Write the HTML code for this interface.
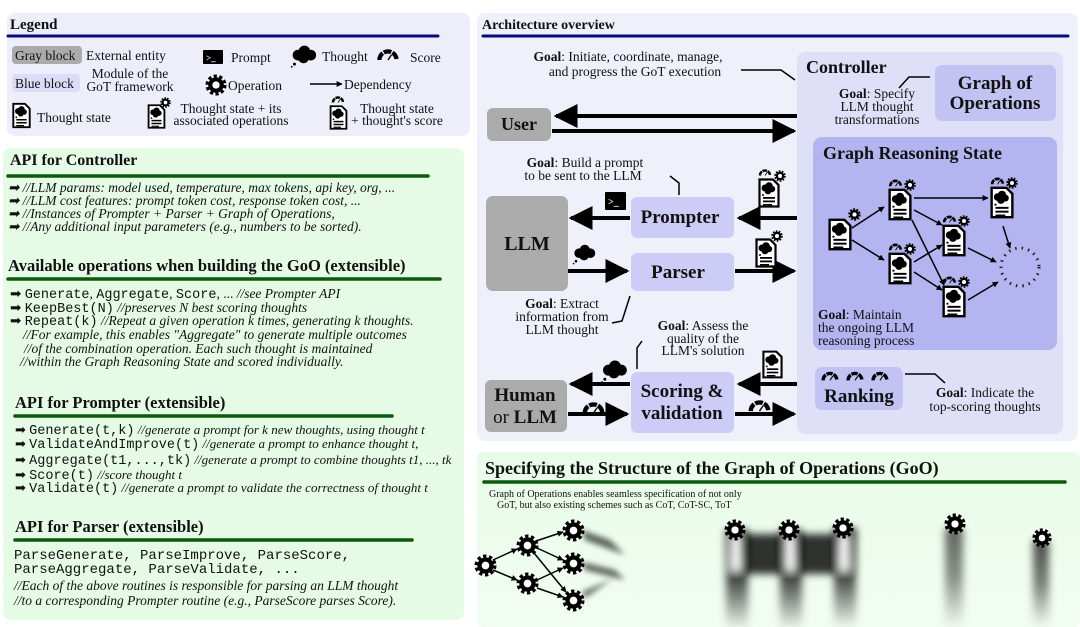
<!DOCTYPE html>
<html><head><meta charset="utf-8"><style>
html,body{margin:0;padding:0;background:#fff;}
svg{display:block;}
text{font-family:"Liberation Serif",serif;fill:#111;}
.b{font-weight:bold;}
.m{font-family:"Liberation Mono",monospace;}
.i{font-style:italic;}
</style></head><body>
<svg width="1080" height="627" viewBox="0 0 1080 627" xmlns="http://www.w3.org/2000/svg">
<defs>
<symbol id="gear" viewBox="-12 -12 24 24" overflow="visible">
<circle r="8.5" fill="#000"/>
<circle r="9.5" fill="none" stroke="#000" stroke-width="4" stroke-dasharray="3.4 2.6"/>
<circle r="4" fill="#fff"/>
</symbol>
<symbol id="cloud" viewBox="0 0 30 24" overflow="visible">
<circle cx="9" cy="11" r="6" fill="#000"/><circle cx="16" cy="7" r="6.5" fill="#000"/><circle cx="23" cy="11" r="6" fill="#000"/><circle cx="15" cy="14" r="6" fill="#000"/>
<circle cx="5" cy="21" r="1.6" fill="#000"/><circle cx="2" cy="24" r="1" fill="#000"/>
</symbol>
<symbol id="doc" viewBox="0 0 22 30" overflow="visible">
<path d="M1.5 1.5 H15 L20.5 7 V28.5 H1.5 Z" fill="#fff" stroke="#000" stroke-width="2.2"/>
<circle cx="7" cy="10" r="3.5"/><circle cx="11" cy="8" r="3.8"/><circle cx="14" cy="11" r="3.2"/><circle cx="10" cy="13" r="3.3"/>
<circle cx="5" cy="17" r="1"/>
<rect x="5" y="19" width="12" height="1.8"/><rect x="5" y="22.5" width="12" height="1.8"/><rect x="5" y="26" width="9" height="1.4"/>
</symbol>
<symbol id="gauge" viewBox="0 0 28 16" overflow="visible">
<path d="M4 15 A10 10 0 0 1 24 15" fill="none" stroke="#000" stroke-width="5" stroke-dasharray="9 1.5"/>
<line x1="14" y1="15" x2="18" y2="9" stroke="#000" stroke-width="1.6"/>
</symbol>
<marker id="ah" viewBox="0 0 10 10" refX="9" refY="5" markerWidth="4" markerHeight="4" orient="auto"><path d="M0 0 L10 5 L0 10 Z" fill="#000"/></marker>
<marker id="as" viewBox="0 0 10 10" refX="9" refY="5" markerWidth="6" markerHeight="6" orient="auto"><path d="M0 0 L10 5 L0 10 Z" fill="#000"/></marker>
<linearGradient id="gbg" x1="0" y1="0" x2="0" y2="1"><stop offset="0" stop-color="#e8fbe8"/><stop offset="1" stop-color="#f2fdf2"/></linearGradient>
<linearGradient id="streak" x1="0" y1="0" x2="0" y2="1"><stop offset="0" stop-color="#000"/><stop offset="0.5" stop-color="#000" stop-opacity="0.7"/><stop offset="1" stop-color="#000" stop-opacity="0"/></linearGradient>
<filter id="bl" x="-50%" y="-20%" width="200%" height="140%"><feGaussianBlur stdDeviation="4"/></filter>
<filter id="bl2" x="-50%" y="-50%" width="200%" height="200%"><feGaussianBlur stdDeviation="3"/></filter>
</defs>

<!-- LEGEND -->
<rect x="7" y="13" width="463" height="123" rx="8" fill="#eeeefa"/>
<text x="10" y="29" class="b" font-size="15">Legend</text>
<line x1="8" y1="36" x2="438" y2="36" stroke="#0a0a80" stroke-width="3" stroke-linecap="round"/>
<rect x="12" y="46" width="70" height="18" rx="4" fill="#ababab"/>
<text x="15" y="60" font-size="13.5">Gray block</text>
<text x="86" y="60" font-size="13.5">External entity</text>
<rect x="203" y="50" width="20" height="14" rx="1" fill="#000"/>
<text x="206" y="61" font-size="9" style="fill:#fff" class="b">&gt;_</text>
<text x="231" y="62" font-size="13.5">Prompt</text>
<use href="#cloud" x="290" y="45" width="27" height="22"/>
<text x="322" y="61" font-size="13.5">Thought</text>
<use href="#gauge" x="376" y="47" width="24" height="14"/>
<text x="410" y="62" font-size="13.5">Score</text>
<rect x="12" y="74" width="68" height="18" rx="4" fill="#dcdcf8"/>
<text x="15" y="88" font-size="13.5">Blue block</text>
<text x="130" y="78" font-size="13.5" text-anchor="middle">Module of the</text>
<text x="130" y="91" font-size="13.5" text-anchor="middle">GoT framework</text>
<use href="#gear" x="205" y="74" width="22" height="22"/>
<text x="228" y="90" font-size="13.5">Operation</text>
<line x1="310" y1="84" x2="342" y2="84" stroke="#000" stroke-width="1.5" marker-end="url(#ah)"/>
<text x="344" y="89" font-size="13.5">Dependency</text>
<use href="#doc" x="12" y="102" width="19" height="27"/>
<text x="37" y="122" font-size="13.5">Thought state</text>
<use href="#doc" x="147" y="104" width="19" height="25"/>
<use href="#gear" x="160" y="97" width="11" height="11"/>
<text x="231" y="113" font-size="13.5" text-anchor="middle">Thought state + its</text>
<text x="231" y="125" font-size="13.5" text-anchor="middle">associated operations</text>
<use href="#doc" x="329" y="105" width="19" height="25"/>
<use href="#gauge" x="331" y="95" width="14" height="8"/>
<text x="397" y="113" font-size="13.5" text-anchor="middle">Thought state</text>
<text x="397" y="125" font-size="13.5" text-anchor="middle">+ thought's score</text>

<!-- LEFT GREEN PANEL -->
<rect x="3" y="148" width="461" height="472" rx="8" fill="#e6fbe6"/>
<text x="10" y="165" class="b" font-size="16">API for Controller</text>
<line x1="8" y1="176" x2="428" y2="176" stroke="#0b5a0b" stroke-width="3.5" stroke-linecap="round"/>
<g font-size="13.5" class="i">
<text x="8" y="192">➡ //LLM params: model used, temperature, max tokens, api key, org, ...</text>
<text x="8" y="205">➡ //LLM cost features: prompt token cost, response token cost, ...</text>
<text x="8" y="218">➡ //Instances of Prompter + Parser + Graph of Operations,</text>
<text x="8" y="231">➡ //Any additional input parameters (e.g., numbers to be sorted).</text>
</g>
<text x="8" y="271" class="b" font-size="16.5">Available operations when building the GoO (extensible)</text>
<line x1="8" y1="279" x2="440" y2="279" stroke="#0b5a0b" stroke-width="3.5" stroke-linecap="round"/>
<g font-size="13.5">
<text x="10" y="298">➡ <tspan class="m" font-size="13.5">Generate</tspan>, <tspan class="m" font-size="13.5">Aggregate</tspan>, <tspan class="m" font-size="13.5">Score</tspan>, ... <tspan class="i">//see Prompter API</tspan></text>
<text x="10" y="312">➡ <tspan class="m" font-size="13.5">KeepBest(N)</tspan> <tspan class="i">//preserves N best scoring thoughts</tspan></text>
<text x="10" y="325">➡ <tspan class="m" font-size="13.5">Repeat(k)</tspan> <tspan class="i">//Repeat a given operation k times, generating k thoughts.</tspan></text>
<text x="23" y="339" class="i">//For example, this enables "Aggregate" to generate multiple outcomes</text>
<text x="24" y="353" class="i">//of the combination operation. Each such thought is maintained</text>
<text x="20" y="366" class="i">//within the Graph Reasoning State and scored individually.</text>
</g>
<text x="15" y="408" class="b" font-size="16.5">API for Prompter (extensible)</text>
<line x1="15" y1="416" x2="392" y2="416" stroke="#0b5a0b" stroke-width="3.5" stroke-linecap="round"/>
<g font-size="13">
<text x="15" y="434">➡ <tspan class="m" font-size="13.5">Generate(t,k)</tspan> <tspan class="i">//generate a prompt for k new thoughts, using thought t</tspan></text>
<text x="15" y="448">➡ <tspan class="m" font-size="13.5">ValidateAndImprove(t)</tspan> <tspan class="i">//generate a prompt to enhance thought t,</tspan></text>
<text x="15" y="464">➡ <tspan class="m" font-size="13.5">Aggregate(t1,...,tk)</tspan> <tspan class="i">//generate a prompt to combine thoughts t1, ..., tk</tspan></text>
<text x="15" y="479">➡ <tspan class="m" font-size="13.5">Score(t)</tspan> <tspan class="i">//score thought t</tspan></text>
<text x="15" y="492">➡ <tspan class="m" font-size="13.5">Validate(t)</tspan> <tspan class="i">//generate a prompt to validate the correctness of thought t</tspan></text>
</g>
<text x="15" y="532" class="b" font-size="16.5">API for Parser (extensible)</text>
<line x1="15" y1="540" x2="412" y2="540" stroke="#0b5a0b" stroke-width="3.5" stroke-linecap="round"/>
<text x="14" y="559" class="m" font-size="14">ParseGenerate, ParseImprove, ParseScore,</text>
<text x="14" y="573" class="m" font-size="14">ParseAggregate, ParseValidate, ...</text>
<text x="14" y="590" class="i" font-size="13.5">//Each of the above routines is responsible for parsing an LLM thought</text>
<text x="14" y="605" class="i" font-size="13.5">//to a corresponding Prompter routine (e.g., ParseScore parses Score).</text>

<!-- ARCHITECTURE -->
<rect x="477" y="13" width="601" height="428" rx="8" fill="#eef0fa"/>
<text x="482" y="29" class="b" font-size="14">Architecture overview</text>
<line x1="483" y1="36" x2="1068" y2="36" stroke="#0a0a80" stroke-width="3" stroke-linecap="round"/>
<rect x="797" y="52" width="266" height="382" rx="8" fill="#dfe0f8"/>
<text x="806" y="73" class="b" font-size="18">Controller</text>
<rect x="935" y="65" width="121" height="56" rx="7" fill="#c2c3f3"/>
<text x="995" y="89" class="b" font-size="19" text-anchor="middle">Graph of</text>
<text x="995" y="109" class="b" font-size="19" text-anchor="middle">Operations</text>
<g font-size="13.5" text-anchor="middle">
<text x="877" y="98"><tspan class="b">Goal</tspan>: Specify</text>
<text x="877" y="111">LLM thought</text>
<text x="877" y="124">transformations</text>
</g>
<polyline points="899,88 909,77 930,77" fill="none" stroke="#000" stroke-width="1.5"/>
<rect x="813" y="137" width="244" height="213" rx="9" fill="#b3b4f0"/>
<text x="823" y="159" class="b" font-size="18">Graph Reasoning State</text>
<g font-size="13.5">
<text x="818" y="319"><tspan class="b">Goal</tspan>: Maintain</text>
<text x="818" y="332">the ongoing LLM</text>
<text x="818" y="345">reasoning process</text>
</g>
<g stroke="#000" stroke-width="1.5" fill="none" marker-end="url(#ah)">
<line x1="852" y1="228" x2="884" y2="207"/>
<line x1="852" y1="240" x2="884" y2="260"/>
<line x1="914" y1="198" x2="988" y2="198"/>
<line x1="914" y1="210" x2="942" y2="225"/>
<line x1="912" y1="220" x2="944" y2="285"/>
<line x1="914" y1="262" x2="942" y2="245"/>
<line x1="914" y1="272" x2="942" y2="290"/>
<line x1="968" y1="248" x2="996" y2="262"/>
<line x1="968" y1="300" x2="998" y2="282"/>
<line x1="1003" y1="226" x2="1010" y2="248"/>
</g>
<circle cx="1020" cy="267" r="19" fill="none" stroke="#222" stroke-width="3" stroke-dasharray="1.5 5"/>
<use href="#doc" x="828" y="218" width="24" height="33"/>
<use href="#gear" x="848" y="208" width="13" height="13"/>
<use href="#doc" x="888" y="188" width="24" height="33"/><use href="#gauge" x="888" y="178" width="15" height="9"/><use href="#gear" x="904" y="179" width="12" height="12"/>
<use href="#doc" x="888" y="252" width="24" height="33"/><use href="#gauge" x="888" y="242" width="15" height="9"/><use href="#gear" x="904" y="243" width="12" height="12"/>
<use href="#doc" x="942" y="224" width="24" height="33"/><use href="#gauge" x="942" y="214" width="15" height="9"/><use href="#gear" x="958" y="215" width="12" height="12"/>
<use href="#doc" x="942" y="285" width="24" height="33"/><use href="#gauge" x="942" y="275" width="15" height="9"/><use href="#gear" x="958" y="276" width="12" height="12"/>
<use href="#doc" x="990" y="186" width="24" height="33"/><use href="#gauge" x="990" y="176" width="15" height="9"/><use href="#gear" x="1006" y="177" width="12" height="12"/>

<rect x="815" y="367" width="88" height="43" rx="7" fill="#c2c3f3"/>
<use href="#gauge" x="820" y="370" width="20" height="11"/><use href="#gauge" x="845" y="370" width="20" height="11"/><use href="#gauge" x="870" y="370" width="20" height="11"/>
<text x="859" y="402" class="b" font-size="19" text-anchor="middle">Ranking</text>
<polyline points="905,374 935,374 945,383" fill="none" stroke="#000" stroke-width="1.5"/>
<g font-size="13.5" text-anchor="middle">
<text x="985" y="397"><tspan class="b">Goal</tspan>: Indicate the</text>
<text x="985" y="411">top-scoring thoughts</text>
</g>

<rect x="487" y="108" width="64" height="33" rx="6" fill="#ababab"/>
<text x="519" y="130" class="b" font-size="18" text-anchor="middle">User</text>
<rect x="486" y="196" width="82" height="95" rx="7" fill="#ababab"/>
<text x="527" y="250" class="b" font-size="20" text-anchor="middle">LLM</text>
<rect x="485" y="380" width="82" height="52" rx="6" fill="#ababab"/>
<text x="525" y="401" class="b" font-size="19" text-anchor="middle">Human</text>
<text x="525" y="423" font-size="19" text-anchor="middle">or <tspan class="b">LLM</tspan></text>
<rect x="631" y="197" width="103" height="41" rx="6" fill="#ccccf6"/>
<text x="680" y="223" class="b" font-size="19" text-anchor="middle">Prompter</text>
<rect x="631" y="253" width="103" height="38" rx="6" fill="#ccccf6"/>
<text x="678" y="278" class="b" font-size="19" text-anchor="middle">Parser</text>
<rect x="631" y="372" width="103" height="61" rx="6" fill="#ccccf6"/>
<text x="682" y="397" class="b" font-size="19" text-anchor="middle">Scoring &amp;</text>
<text x="682" y="419" class="b" font-size="19" text-anchor="middle">validation</text>

<g stroke="#000" stroke-width="4" marker-end="url(#as)">
<line x1="797" y1="116" x2="556" y2="116"/>
<line x1="552" y1="131" x2="794" y2="131"/>
<line x1="797" y1="218" x2="739" y2="218"/>
<line x1="630" y1="218" x2="571" y2="218"/>
<line x1="568" y1="271" x2="627" y2="271"/>
<line x1="735" y1="271" x2="794" y2="271"/>
<line x1="797" y1="384" x2="739" y2="384"/>
<line x1="630" y1="384" x2="571" y2="384"/>
<line x1="568" y1="414" x2="627" y2="414"/>
<line x1="735" y1="414" x2="794" y2="414"/>
</g>
<rect x="605" y="192" width="21" height="18" rx="1" fill="#000"/>
<text x="608" y="205" font-size="10" style="fill:#fff" class="b">&gt;_</text>
<use href="#cloud" x="572" y="244" width="24" height="20"/>
<use href="#doc" x="758" y="178" width="22" height="30"/><use href="#gauge" x="758" y="168" width="14" height="8"/><use href="#gear" x="774" y="170" width="12" height="12"/>
<use href="#doc" x="755" y="238" width="22" height="30"/><use href="#gear" x="771" y="230" width="12" height="12"/>
<use href="#cloud" x="600" y="360" width="28" height="22"/>
<use href="#gauge" x="580" y="400" width="27" height="14"/>
<use href="#gauge" x="746" y="398" width="27" height="14"/>
<use href="#doc" x="762" y="350" width="21" height="29"/>

<g font-size="13.5" text-anchor="middle">
<text x="628" y="61"><tspan class="b">Goal</tspan>: Initiate, coordinate, manage,</text>
<text x="635" y="76">and progress the GoT execution</text>
<text x="585" y="167"><tspan class="b">Goal</tspan>: Build a prompt</text>
<text x="583" y="180">to be sent to the LLM</text>
<text x="562" y="308"><tspan class="b">Goal</tspan>: Extract</text>
<text x="562" y="321">information from</text>
<text x="562" y="334">LLM thought</text>
<text x="703" y="330"><tspan class="b">Goal</tspan>: Assess the</text>
<text x="703" y="343">quality of the</text>
<text x="703" y="355">LLM's solution</text>
</g>
<g fill="none" stroke="#000" stroke-width="1.5">
<polyline points="741,70 781,70 795,80"/>
<polyline points="670,176 679,183 679,195"/>
<polyline points="612,323 622,321 630,296"/>
<polyline points="642,341 637,348 637,369"/>
</g>

<!-- GoO -->
<rect x="477" y="452" width="603" height="175" rx="6" fill="url(#gbg)"/>
<text x="485" y="474" class="b" font-size="18">Specifying the Structure of the Graph of Operations (GoO)</text>
<line x1="484" y1="482" x2="1065" y2="482" stroke="#0b5a0b" stroke-width="3.5" stroke-linecap="round"/>
<text x="489" y="497" font-size="10">Graph of Operations enables seamless specification of not only</text>
<text x="497" y="508" font-size="10">GoT, but also existing schemes such as CoT, CoT-SC, ToT</text>
<g stroke="#000" stroke-width="1.5" marker-end="url(#ah)">
<line x1="493" y1="560" x2="517" y2="549"/>
<line x1="493" y1="570" x2="517" y2="580"/>
<line x1="536" y1="541" x2="563" y2="532"/>
<line x1="537" y1="548" x2="563" y2="560"/>
<line x1="534" y1="553" x2="566" y2="592"/>
<line x1="537" y1="580" x2="563" y2="568"/>
<line x1="537" y1="588" x2="563" y2="597"/>
</g>
<g filter="url(#bl2)" opacity="0.6">
<polygon points="582,530 610,540 625,555 585,540" fill="#000"/>
<polygon points="582,562 615,570 625,580 585,570" fill="#000"/>
<polygon points="582,592 610,580 618,575 585,598" fill="#000"/>
</g>
<use href="#gear" x="474" y="554" width="23" height="23"/>
<use href="#gear" x="516" y="534" width="23" height="23"/>
<use href="#gear" x="516" y="572" width="23" height="23"/>
<use href="#gear" x="562" y="519" width="23" height="23"/>
<use href="#gear" x="562" y="552" width="23" height="23"/>
<use href="#gear" x="562" y="589" width="23" height="23"/>
<g filter="url(#bl)">
<rect x="726" y="530" width="22" height="100" fill="url(#streak)"/>
<rect x="780" y="530" width="22" height="100" fill="url(#streak)"/>
<rect x="834" y="528" width="22" height="100" fill="url(#streak)"/>
<rect x="745" y="534" width="40" height="40" fill="#000" opacity="0.8"/>
<rect x="800" y="534" width="36" height="40" fill="#000" opacity="0.8"/>
<rect x="945" y="528" width="18" height="100" fill="url(#streak)" opacity="0.6"/>
<rect x="1033" y="540" width="16" height="87" fill="url(#streak)" opacity="0.7"/>
<rect x="732" y="535" width="8" height="35" fill="#fff"/>
<rect x="786" y="535" width="8" height="35" fill="#fff"/>
<rect x="840" y="535" width="8" height="35" fill="#fff"/>
</g>
<use href="#gear" x="724" y="519" width="22" height="22"/>
<use href="#gear" x="778" y="519" width="22" height="22"/>
<use href="#gear" x="832" y="517" width="22" height="22"/>
<use href="#gear" x="944" y="513" width="22" height="22"/>
<use href="#gear" x="1032" y="528" width="20" height="20"/>
</svg>
</body></html>
